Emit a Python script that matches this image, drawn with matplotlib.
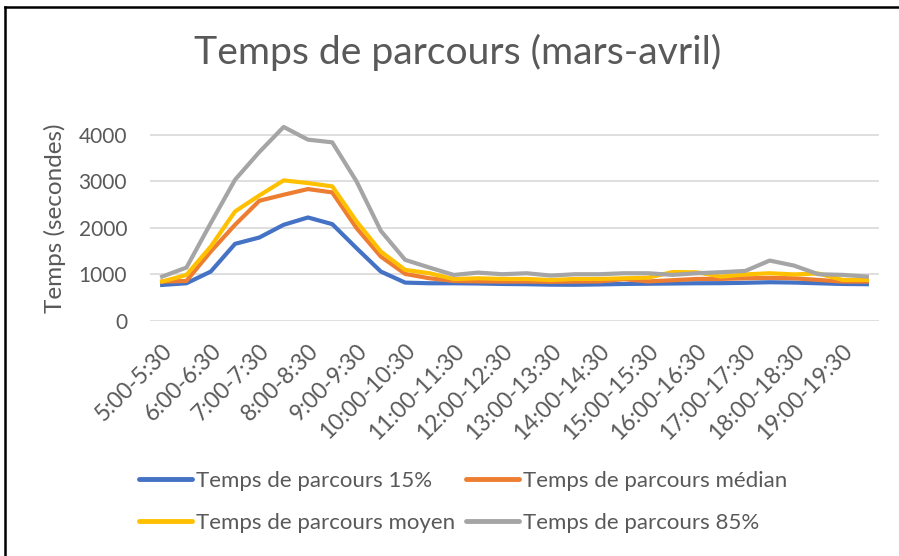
import matplotlib
matplotlib.use('Agg')
import matplotlib.pyplot as plt
from matplotlib.lines import Line2D
from matplotlib.transforms import ScaledTranslation

plt.rcParams['font.family'] = ['Lato', 'DejaVu Sans']

categories = ['5:00-5:30', '5:30-6:00', '6:00-6:30', '6:30-7:00', '7:00-7:30',
              '7:30-8:00', '8:00-8:30', '8:30-9:00', '9:00-9:30', '9:30-10:00',
              '10:00-10:30', '10:30-11:00', '11:00-11:30', '11:30-12:00',
              '12:00-12:30', '12:30-13:00', '13:00-13:30', '13:30-14:00',
              '14:00-14:30', '14:30-15:00', '15:00-15:30', '15:30-16:00',
              '16:00-16:30', '16:30-17:00', '17:00-17:30', '17:30-18:00',
              '18:00-18:30', '18:30-19:00', '19:00-19:30', '19:30-20:00']

p15 = [774, 810, 1061, 1656, 1792, 2065, 2222, 2079, 1563, 1061,
       824, 810, 810, 805, 795, 790, 780, 778, 785, 795,
       800, 805, 810, 812, 820, 832, 825, 810, 795, 790]
median = [846, 860, 1491, 2065, 2581, 2710, 2832, 2760, 1993, 1383,
          1011, 917, 860, 850, 846, 846, 840, 845, 850, 897,
          850, 875, 903, 903, 917, 925, 917, 882, 846, 846]
moyen = [846, 989, 1598, 2351, 2695, 3018, 2961, 2889, 2136, 1491,
         1097, 1025, 900, 917, 903, 903, 880, 903, 903, 917,
         930, 1050, 1045, 953, 1000, 1025, 1000, 1020, 882, 882]
p85 = [953, 1147, 2100, 3032, 3627, 4165, 3892, 3835, 2996, 1935,
       1312, 1147, 989, 1039, 1004, 1025, 975, 1004, 1004, 1025,
       1025, 990, 1025, 1047, 1075, 1297, 1190, 1004, 990, 953]

series = [
    ('Temps de parcours 15%', p15, '#4472C4'),
    ('Temps de parcours médian', median, '#ED7D31'),
    ('Temps de parcours moyen', moyen, '#FFC000'),
    ('Temps de parcours 85%', p85, '#A5A5A5'),
]

txt = '#595959'
W, H = 899, 556

fig = plt.figure(figsize=(W / 100, H / 100), dpi=100)
ax = fig.add_axes([150 / W, 1 - 321 / H, (879 - 150) / W, (321 - 116) / H])

x = list(range(len(categories)))
for name, vals, col in series:
    ax.plot(x, vals, color=col, lw=3, label=name, solid_joinstyle='round')

ax.set_xlim(-0.5, len(categories) - 0.5)
ax.set_ylim(0, 4400)
ax.set_yticks([0, 1000, 2000, 3000, 4000])
ax.yaxis.grid(True, color='#D9D9D9', lw=1.2)
ax.set_axisbelow(True)
for s in ax.spines.values():
    s.set_visible(False)
ax.tick_params(length=0, colors=txt)
ax.tick_params(axis='y', pad=16.5, labelsize=15)
ax.tick_params(axis='x', pad=19, labelsize=16.5)

ax.set_xticks(x[::2])
ax.set_xticklabels(categories[::2], rotation=45, ha='right', va='center',
                   rotation_mode='anchor', color=txt)
shift = ScaledTranslation(0.07, 0, fig.dpi_scale_trans)
for lab in ax.get_xticklabels():
    lab.set_transform(lab.get_transform() + shift)

ax.set_ylabel('Temps (secondes)', color=txt, fontsize=17.5, labelpad=9)

fig.text(0.509, 1 - 52 / H, 'Temps de parcours (mars-avril)', ha='center',
         va='center', color=txt, fontsize=28.2)

# legend is filled column by column, so order gives rows 15%/médian, moyen/85%
order = [0, 2, 1, 3]
handles = [Line2D([], [], color=series[i][2], lw=3.5, solid_capstyle='round') for i in order]
labels = [series[i][0] for i in order]
fig.legend(handles, labels, ncol=2, loc='center', bbox_to_anchor=(463 / W, 1 - 502 / H),
           frameon=False, fontsize=16, labelcolor=txt, handlelength=2.4,
           handletextpad=0.15, columnspacing=0.5, labelspacing=0.98,
           borderpad=0, borderaxespad=0)

# chart frame (only top and left edges visible in the crop)
fig.add_artist(Line2D([5 / W, 5 / W], [0, 1 - 6.5 / H], color='black', lw=1.8))
fig.add_artist(Line2D([5 / W, 1], [1 - 6.5 / H, 1 - 6.5 / H], color='black', lw=1.8))

fig.savefig('out.png', dpi=100, facecolor='white')
